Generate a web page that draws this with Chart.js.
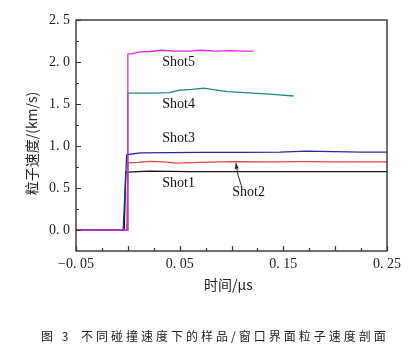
<!DOCTYPE html>
<html lang="zh">
<head>
<meta charset="UTF-8">
<title>粒子速度剖面</title>
<script src="https://cdn.jsdelivr.net/npm/chart.js"></script>
<style>
  html, body { margin: 0; padding: 0; background: #fff; }
</style>
</head>
<body>
<canvas id="grafico" width="414" height="359"></canvas>
<script>
// dados (tempo em us, velocidade em km/s)
const shot1T = [-0.05, -0.0035, -0.002, 0.0, 0.02, 0.06, 0.12, 0.18, 0.25];
const shot1V = [0, 0, 0.69, 0.69, 0.70, 0.695, 0.695, 0.694, 0.694];

const shot2T = [-0.05, -0.001, 0.0, 0.01, 0.021, 0.035, 0.047, 0.07, 0.101, 0.14, 0.166, 0.21, 0.25];
const shot2V = [0, 0, 0.80, 0.805, 0.817, 0.81, 0.797, 0.805, 0.813, 0.812, 0.813, 0.81, 0.81];

const shot3T = [-0.05, -0.0045, -0.0011, 0.004, 0.012, 0.04, 0.07, 0.11, 0.147, 0.172, 0.198, 0.225, 0.25];
const shot3V = [0, 0, 0.895, 0.905, 0.917, 0.922, 0.924, 0.925, 0.926, 0.94, 0.932, 0.928, 0.926];

const shot4T = [-0.05, 0.0, 0.0, 0.024, 0.04, 0.05, 0.062, 0.0735, 0.082, 0.096, 0.121, 0.14, 0.160];
const shot4V = [0, 0, 1.63, 1.63, 1.635, 1.665, 1.675, 1.69, 1.672, 1.647, 1.63, 1.615, 1.595];

const shot5T = [-0.05, 0.0, 0.0, 0.004, 0.012, 0.022, 0.032, 0.045, 0.06, 0.07, 0.085, 0.1, 0.11, 0.121];
const shot5V = [0, 0, 2.095, 2.10, 2.12, 2.125, 2.14, 2.13, 2.13, 2.14, 2.13, 2.135, 2.13, 2.13];

const xTicks = [-0.05, 0.05, 0.15, 0.25];
const yTicks = [0, 0.5, 1.0, 1.5, 2.0, 2.5];

// rotulos dentro do grafico
const rotulos = ["Shot5", "Shot4", "Shot3", "Shot1", "Shot2"];
const rotuloT = [0.0332, 0.0332, 0.0332, 0.0332, 0.1008];
const rotuloV = [2.0, 1.5, 1.087, 0.551, 0.448];
// seta do Shot2 (inicio -> ponta)
const setaT = [0.1096, 0.1043];
const setaV = [0.527, 0.797];

const pares = (ts, vs) => ts.map((t, i) => ({x: t, y: vs[i]}));
const serif = '"Liberation Serif", "DejaVu Serif", serif';
const cjk = '"Noto Sans CJK SC", sans-serif';

const fmt = (v, d) => {
  let s = Math.abs(v).toFixed(d).replace('.', '. ');
  return (v < -1e-9 ? '\u2212' : '') + s;
};

const extras = {
  id: 'extras',
  afterDatasetsDraw(chart) {
    const {ctx, chartArea: a, scales: {x, y}} = chart;
    ctx.save();
    // moldura
    ctx.strokeStyle = '#333';
    ctx.lineWidth = 1.4;
    ctx.strokeRect(a.left, a.top, a.right - a.left, a.bottom - a.top);
    // ticks para dentro
    ctx.lineWidth = 1.2;
    ctx.beginPath();
    for (let t = -0.05; t <= 0.2501; t += 0.025) {
      const px = Math.round(x.getPixelForValue(t)) + 0.5;
      const major = Math.abs(Math.round(t / 0.05) * 0.05 - t) < 1e-6;
      ctx.moveTo(px, a.bottom);
      ctx.lineTo(px, a.bottom - (major ? 5 : 3));
    }
    for (let v = 0; v <= 2.5001; v += 0.25) {
      const py = Math.round(y.getPixelForValue(v)) + 0.5;
      const major = Math.abs(Math.round(v / 0.5) * 0.5 - v) < 1e-6;
      ctx.moveTo(a.left, py);
      ctx.lineTo(a.left + (major ? 5 : 3), py);
    }
    ctx.stroke();

    // rotulos das series
    ctx.fillStyle = '#111';
    ctx.font = '14px ' + serif;
    ctx.textBaseline = 'middle';
    ctx.textAlign = 'left';
    rotulos.forEach((r, i) => {
      ctx.fillText(r, x.getPixelForValue(rotuloT[i]), y.getPixelForValue(rotuloV[i]));
    });

    // seta
    const x0 = x.getPixelForValue(setaT[0]), y0 = y.getPixelForValue(setaV[0]);
    const x1 = x.getPixelForValue(setaT[1]), y1 = y.getPixelForValue(setaV[1]);
    ctx.strokeStyle = '#222';
    ctx.lineWidth = 1;
    ctx.beginPath();
    ctx.moveTo(x0, y0);
    ctx.quadraticCurveTo(x0 - 4, (y0 + y1) / 2 + 2, x1, y1);
    ctx.stroke();
    const ang = Math.atan2(y1 - y0 + 4, x1 - x0 + 3);
    ctx.fillStyle = '#222';
    ctx.beginPath();
    ctx.moveTo(x1, y1);
    ctx.lineTo(x1 - 6 * Math.cos(ang - 0.35), y1 - 6 * Math.sin(ang - 0.35));
    ctx.lineTo(x1 - 6 * Math.cos(ang + 0.35), y1 - 6 * Math.sin(ang + 0.35));
    ctx.closePath();
    ctx.fill();

    // titulos dos eixos
    ctx.fillStyle = '#222';
    ctx.font = '14px ' + cjk;
    ctx.textAlign = 'center';
    ctx.fillText('时间/μs', (a.left + a.right) / 2 - 3, a.bottom + 34);
    ctx.save();
    ctx.translate(31.5, (a.top + a.bottom) / 2 + 8);
    ctx.rotate(-Math.PI / 2);
    ctx.fillText('粒子速度/(km/s)', 0, 0);
    ctx.restore();

    // legenda da figura
    ctx.font = '12px ' + cjk;
    ctx.textAlign = 'left';
    ctx.letterSpacing = '3px';
    ctx.fillText('图 3', 41, 336);
    ctx.fillText('不同碰撞速度下的样品/窗口界面粒子速度剖面', 81, 336);
    ctx.restore();
  }
};

const linha = (label, ts, vs, cor) => ({
  label: label,
  data: pares(ts, vs),
  borderColor: cor,
  borderWidth: 1.3,
  pointRadius: 0,
  tension: 0,
  fill: false
});

new Chart(document.getElementById('grafico'), {
  type: 'line',
  data: {
    datasets: [
      linha('Shot5', shot5T, shot5V, 'rgb(222,40,222)'),
      linha('Shot3', shot3T, shot3V, 'rgb(40,40,165)'),
      linha('Shot4', shot4T, shot4V, 'rgb(28,138,120)'),
      linha('Shot2', shot2T, shot2V, 'rgb(228,70,70)'),
      linha('Shot1', shot1T, shot1V, 'rgb(20,20,20)')
    ]
  },
  options: {
    responsive: false,
    animation: false,
    layout: { padding: { left: 0, top: 20, right: 27, bottom: 0 } },
    plugins: { legend: { display: false }, tooltip: { enabled: false } },
    scales: {
      x: {
        type: 'linear',
        min: -0.05,
        max: 0.25,
        afterBuildTicks: s => { s.ticks = xTicks.map(v => ({value: v})); },
        afterFit: s => { s.height = 108; },
        grid: { display: false, drawTicks: false },
        border: { display: false },
        ticks: {
          padding: 5,
          color: '#222',
          font: { family: serif, size: 14 },
          callback: v => fmt(v, 2)
        }
      },
      y: {
        type: 'linear',
        min: -0.25,
        max: 2.5,
        afterBuildTicks: s => { s.ticks = yTicks.map(v => ({value: v})); },
        afterFit: s => { s.width = 76; },
        grid: { display: false, drawTicks: false },
        border: { display: false },
        ticks: {
          padding: 6,
          color: '#222',
          font: { family: serif, size: 14 },
          callback: v => fmt(v, 1)
        }
      }
    }
  },
  plugins: [extras]
});
</script>
</body>
</html>
